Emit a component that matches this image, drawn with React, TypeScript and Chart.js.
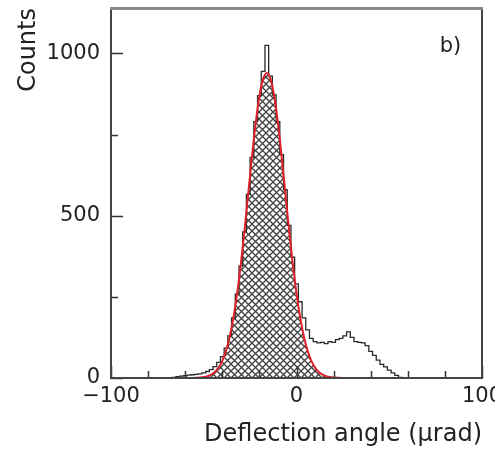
import React, { useEffect, useRef } from 'react';
import { Chart, registerables } from 'chart.js';

Chart.register(...registerables);

// Histogram: lower bin edges (µrad) and counts per bin
const binEdges = [
  -71, -69, -67, -65, -63, -61, -59, -57, -55, -53, -51, -49, -47, -45, -43, -41,
  -39, -37, -35, -33, -31, -29, -27, -25, -23, -21, -19, -17, -15, -13, -11, -9,
  -7, -5, -3, -1, 1, 3, 5, 7, 9, 11, 13, 15, 17, 19, 21, 23,
  25, 27, 29, 31, 33, 35, 37, 39, 41, 43, 45, 47, 49, 51, 53, 55,
];
const counts = [
  0, 1, 2, 4, 6, 7, 9, 10, 11, 13, 16, 20, 26, 35, 48, 66,
  92, 130, 185, 258, 345, 450, 566, 680, 790, 870, 945, 1025, 930, 872, 790, 688,
  580, 470, 372, 290, 235, 185, 148, 122, 112, 108, 110, 106, 112, 110, 118, 122,
  130, 142, 125, 112, 110, 108, 100, 82, 70, 55, 42, 34, 24, 16, 8, 2,
];
const histUpperEdge = 57;

// Gaussian fit curve sampled values
const fitX = [
  -62, -60, -58, -56, -54, -52, -50, -48, -46, -44, -42, -40, -38, -36, -34, -32,
  -30, -28, -26, -24, -22, -20, -18, -16, -14, -12, -10, -8, -6, -4, -2, 0,
  2, 4, 6, 8, 10, 12, 14, 16, 18, 20, 22, 24,
];
const fitY = [
  0.02, 0.06, 0.14, 0.31, 0.69, 1.44, 2.9, 5.6, 10.4, 18.6, 32, 52.8, 83.6, 127, 186, 261,
  352, 456, 570, 682, 785, 868, 921, 940, 921, 868, 785, 682, 570, 456, 352, 261,
  186, 127, 83.6, 52.8, 32, 18.6, 10.4, 5.6, 2.9, 1.4, 0.7, 0.3,
];

const xTicks = [-100, 0, 100];
const yTicks = [0, 500, 1000];
const xMinorStep = 20;
const yMinorStep = 250;
const panelLabel = 'b)';
const xTitle = 'Deflection angle (\u00b5rad)';
const yTitle = 'Counts';

const FONT = 'DejaVu Sans';

function makeHatch(): CanvasPattern | string {
  const c = document.createElement('canvas');
  const s = 7;
  c.width = s;
  c.height = s;
  const g = c.getContext('2d');
  if (!g) return '#888';
  g.fillStyle = '#ffffff';
  g.fillRect(0, 0, s, s);
  g.strokeStyle = '#404040';
  g.lineWidth = 1.3;
  g.beginPath();
  g.moveTo(-1, -1);
  g.lineTo(s + 1, s + 1);
  g.moveTo(-1, s + 1);
  g.lineTo(s + 1, -1);
  g.stroke();
  const p = g.createPattern(c, 'repeat');
  return p || '#888';
}

function zeroPadding(s: any) {
  s.paddingLeft = 0;
  s.paddingRight = 0;
  s.paddingTop = 0;
  s.paddingBottom = 0;
}

export default function App() {
  const ref = useRef<HTMLCanvasElement | null>(null);

  useEffect(() => {
    document.body.style.margin = '0';
    const canvas = ref.current;
    if (!canvas) return;

    const histData = binEdges.map((x, i) => ({ x, y: counts[i] }));
    histData.push({ x: histUpperEdge, y: 0 });
    const fitData = fitX.map((x, i) => ({ x, y: fitY[i] }));

    const framePlugin = {
      id: 'frameAndTicks',
      afterDatasetsDraw(chart: any) {
        const { ctx, chartArea: a, scales } = chart;
        const xs = scales.x;
        const ys = scales.y;
        ctx.save();
        ctx.strokeStyle = '#333';
        ctx.lineWidth = 1.5;
        ctx.beginPath();
        for (let v = ys.min; v <= ys.max; v += yMinorStep) {
          const y = Math.round(ys.getPixelForValue(v)) + 0.5;
          const len = v % 500 === 0 ? 12 : 7;
          ctx.moveTo(a.left, y);
          ctx.lineTo(a.left + len, y);
        }
        for (let v = xs.min; v <= xs.max + 0.001; v += xMinorStep) {
          const x = Math.round(xs.getPixelForValue(v)) + 0.5;
          const len = v % 100 === 0 ? 12 : 7;
          ctx.moveTo(x, a.bottom);
          ctx.lineTo(x, a.bottom - len);
        }
        ctx.stroke();
        ctx.strokeStyle = '#444';
        ctx.lineWidth = 2;
        ctx.beginPath();
        ctx.moveTo(a.left, a.top);
        ctx.lineTo(a.left, a.bottom);
        ctx.lineTo(a.right, a.bottom);
        ctx.lineTo(a.right, a.top);
        ctx.stroke();
        ctx.strokeStyle = '#8a8a8a';
        ctx.lineWidth = 3;
        ctx.beginPath();
        ctx.moveTo(a.left - 1, a.top + 0.5);
        ctx.lineTo(a.right + 1, a.top + 0.5);
        ctx.stroke();
        ctx.fillStyle = '#222';
        ctx.font = `21px "${FONT}"`;
        ctx.textAlign = 'center';
        ctx.textBaseline = 'middle';
        ctx.fillText(panelLabel, xs.getPixelForValue(83), ys.getPixelForValue(1020));
        ctx.restore();
      },
    };

    const chart = new Chart(canvas, {
      type: 'line',
      data: {
        datasets: [
          {
            label: 'fit',
            data: fitData,
            borderColor: '#e0202a',
            borderWidth: 2,
            pointRadius: 0,
            fill: false,
            cubicInterpolationMode: 'monotone',
            order: 1,
          },
          {
            label: 'histogram',
            data: histData,
            borderColor: '#2a2a2a',
            borderWidth: 1.3,
            pointRadius: 0,
            fill: false,
            stepped: true,
            order: 2,
          },
          {
            label: 'hatch',
            data: fitData,
            borderWidth: 0,
            borderColor: 'rgba(0,0,0,0)',
            backgroundColor: makeHatch() as any,
            pointRadius: 0,
            fill: 'origin',
            cubicInterpolationMode: 'monotone',
            order: 3,
          },
        ],
      },
      options: {
        responsive: false,
        animation: false,
        layout: { autoPadding: false, padding: { left: 0, top: 8, right: 13, bottom: 0 } },
        plugins: { legend: { display: false }, tooltip: { enabled: false } },
        scales: {
          x: {
            type: 'linear',
            min: -100,
            max: 100,
            grid: { display: false, drawTicks: false },
            border: { display: false },
            afterBuildTicks: (s: any) => {
              s.ticks = xTicks.map((value) => ({ value }));
            },
            afterFit: (s: any) => {
              s.height = 72;
              zeroPadding(s);
            },
            ticks: {
              padding: 6,
              maxRotation: 0,
              color: '#222',
              font: { family: FONT, size: 21 },
              callback: (v: any) => (v < 0 ? '\u2212' + Math.abs(v) : String(v)),
            },
            title: {
              display: true,
              text: xTitle,
              align: 'end',
              color: '#222',
              font: { family: FONT, size: 24 },
              padding: { top: 0, bottom: 1 },
            },
          },
          y: {
            type: 'linear',
            min: 0,
            max: 1140,
            grid: { display: false, drawTicks: false },
            border: { display: false },
            afterBuildTicks: (s: any) => {
              s.ticks = yTicks.map((value) => ({ value }));
            },
            afterFit: (s: any) => {
              s.width = 111;
              zeroPadding(s);
            },
            ticks: {
              padding: 11,
              color: '#222',
              font: { family: FONT, size: 21 },
              callback: (v: any) => String(v),
            },
            title: {
              display: true,
              text: yTitle,
              align: 'end',
              color: '#222',
              font: { family: FONT, size: 24 },
              padding: { top: 14, bottom: 0 },
            },
          },
        },
      },
      plugins: [framePlugin],
    } as any);

    return () => chart.destroy();
  }, []);

  return (
    <div style={{ width: 495, height: 450 }}>
      <canvas ref={ref} width={495} height={450} />
    </div>
  );
}
